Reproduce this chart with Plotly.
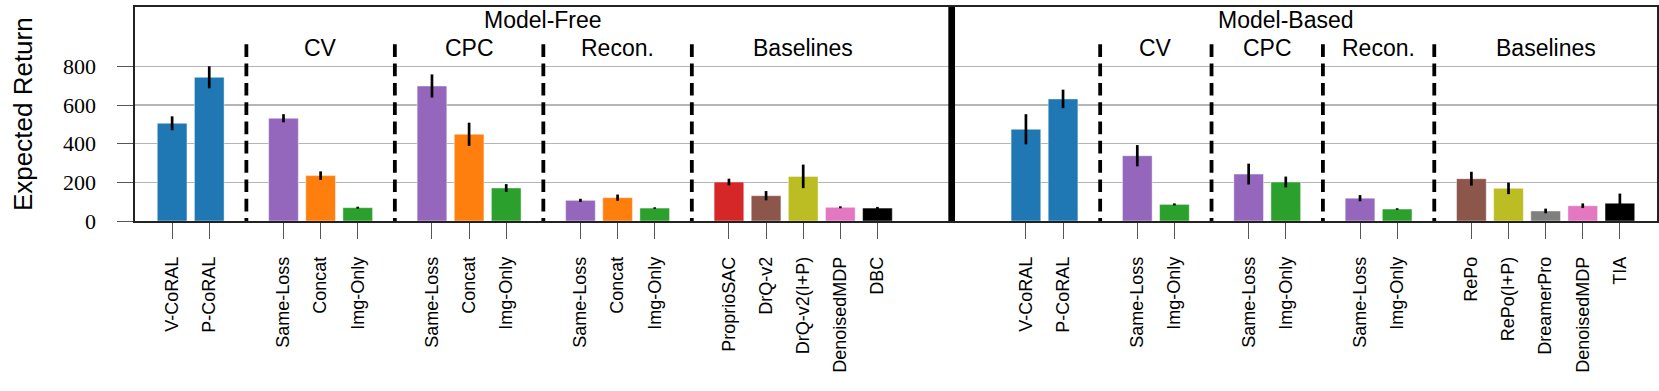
import plotly.graph_objects as go

# ---------------- data ----------------
mf_labels = ["V-CoRAL", "P-CoRAL",
             "Same-Loss", "Concat", "Img-Only",
             "Same-Loss", "Concat", "Img-Only",
             "Same-Loss", "Concat", "Img-Only",
             "ProprioSAC", "DrQ-v2", "DrQ-v2(I+P)", "DenoisedMDP", "DBC"]
mf_groups = ["", "",
             "CV", "CV", "CV",
             "CPC", "CPC", "CPC",
             "Recon.", "Recon.", "Recon.",
             "Baselines", "Baselines", "Baselines", "Baselines", "Baselines"]
mf_mean = [506, 744, 532, 235, 69, 699, 449, 171, 107, 121, 67, 202, 131, 231, 71, 67]
mf_err = [36, 57, 21, 22, 5, 60, 60, 20, 8, 16, 4, 17, 24, 61, 5, 6]

mb_labels = ["V-CoRAL", "P-CoRAL",
             "Same-Loss", "Img-Only",
             "Same-Loss", "Img-Only",
             "Same-Loss", "Img-Only",
             "RePo", "RePo(I+P)", "DreamerPro", "DenoisedMDP", "TIA"]
mb_groups = ["", "",
             "CV", "CV",
             "CPC", "CPC",
             "Recon.", "Recon.",
             "Baselines", "Baselines", "Baselines", "Baselines", "Baselines"]
mb_mean = [475, 632, 338, 86, 243, 202, 118, 62, 219, 169, 52, 79, 92]
mb_err = [78, 48, 55, 5, 54, 28, 16, 4, 36, 30, 12, 12, 50]

section_titles = ["Model-Free", "Model-Based"]
y_ticks = [0, 200, 400, 600, 800]

# ---------------- style ----------------
color_of = {
    "V-CoRAL": "#1f77b4", "P-CoRAL": "#1f77b4",
    "Same-Loss": "#9467bd", "Concat": "#ff7f0e", "Img-Only": "#2ca02c",
    "ProprioSAC": "#d62728", "DrQ-v2": "#8c564b", "DrQ-v2(I+P)": "#bcbd22",
    "DenoisedMDP": "#e377c2", "DBC": "#000000",
    "RePo": "#8c564b", "RePo(I+P)": "#bcbd22", "DreamerPro": "#7f7f7f",
    "TIA": "#000000",
}
SANS = "Liberation Sans"
SERIF = "Liberation Serif"


def layout_positions(groups, start):
    pos, dashes, centers = [], [], {}
    cur = start
    for i, g in enumerate(groups):
        if i > 0:
            if g != groups[i - 1]:
                dashes.append(cur + 1)
                cur += 2
            else:
                cur += 1
        pos.append(cur)
        centers.setdefault(g, []).append(cur)
    return pos, dashes, centers


mf_pos, mf_dash, mf_cent = layout_positions(mf_groups, 0)
divider = mf_pos[-1] + 2
mb_pos, mb_dash, mb_cent = layout_positions(mb_groups, divider + 2)
x_lo = -1
x_hi = mb_pos[-1] + 1

positions = mf_pos + mb_pos
labels = mf_labels + mb_labels
means = mf_mean + mb_mean
errs = mf_err + mb_err
colors = [color_of[l] for l in labels]

fig = go.Figure()
fig.add_trace(go.Bar(
    x=positions, y=means, width=0.8,
    marker=dict(color=colors, line=dict(color="rgba(255,255,255,0.45)", width=1)),
    error_y=dict(type="data", array=errs, color="black", thickness=2.7, width=0),
    showlegend=False, hoverinfo="skip",
))

Y_TOP = 1108
shapes = []
for d in mf_dash + mb_dash:
    shapes.append(dict(type="line", xref="x", yref="y", x0=d, x1=d, y0=915, y1=0,
                       line=dict(color="black", width=3.8, dash="12.7px,6.6px"),
                       layer="above"))
shapes.append(dict(type="line", xref="x", yref="paper", x0=divider, x1=divider, y0=0, y1=1,
                   line=dict(color="black", width=6.7), layer="above"))

annotations = []
annotations.append(dict(text=section_titles[0], x=(x_lo + divider) / 2, y=1041,
                        xref="x", yref="y", showarrow=False,
                        font=dict(family=SANS, size=23, color="black")))
annotations.append(dict(text=section_titles[1], x=(divider + mb_pos[-1]) / 2, y=1041,
                        xref="x", yref="y", showarrow=False,
                        font=dict(family=SANS, size=23, color="black")))
for cent in (mf_cent, mb_cent):
    for g, ps in cent.items():
        if not g:
            continue
        annotations.append(dict(text=g, x=(ps[0] + ps[-1]) / 2, y=895,
                                xref="x", yref="y", showarrow=False,
                                font=dict(family=SANS, size=23, color="black")))
annotations.append(dict(text="Expected Return", x=-0.0736, y=0.5, xref="paper", yref="paper",
                        textangle=-90, showarrow=False, xanchor="center", yanchor="middle",
                        font=dict(family=SANS, size=26, color="black")))

fig.update_layout(
    width=1659, height=391,
    margin=dict(l=135, r=2, t=7, b=170),
    plot_bgcolor="white", paper_bgcolor="white",
    shapes=shapes, annotations=annotations,
    bargap=0,
)
fig.update_xaxes(
    range=[x_lo, x_hi], tickmode="array", tickvals=positions, ticktext=labels,
    tickangle=-90, ticks="outside", ticklen=16, tickwidth=1, tickcolor="#555555",
    tickfont=dict(family=SANS, size=18, color="black"),
    showgrid=False, zeroline=False,
    showline=True, linecolor="#222222", linewidth=1.6, mirror=True,
    ticklabelstandoff=11, automargin=False,
)
fig.update_yaxes(
    range=[0, Y_TOP], tickmode="array", tickvals=y_ticks,
    ticks="outside", ticklen=16, tickwidth=1, tickcolor="#555555",
    tickfont=dict(family=SERIF, size=22, color="black"),
    showgrid=True, gridcolor="#b5b5b5", gridwidth=1.5, zeroline=False,
    showline=True, linecolor="#222222", linewidth=1.6, mirror=True,
    ticklabelstandoff=17, automargin=False,
)

fig.write_html(
    "out.html",
    config={"displayModeBar": False, "staticPlot": True},
    post_script="document.body.style.margin='0';document.body.style.overflow='hidden';",
)
